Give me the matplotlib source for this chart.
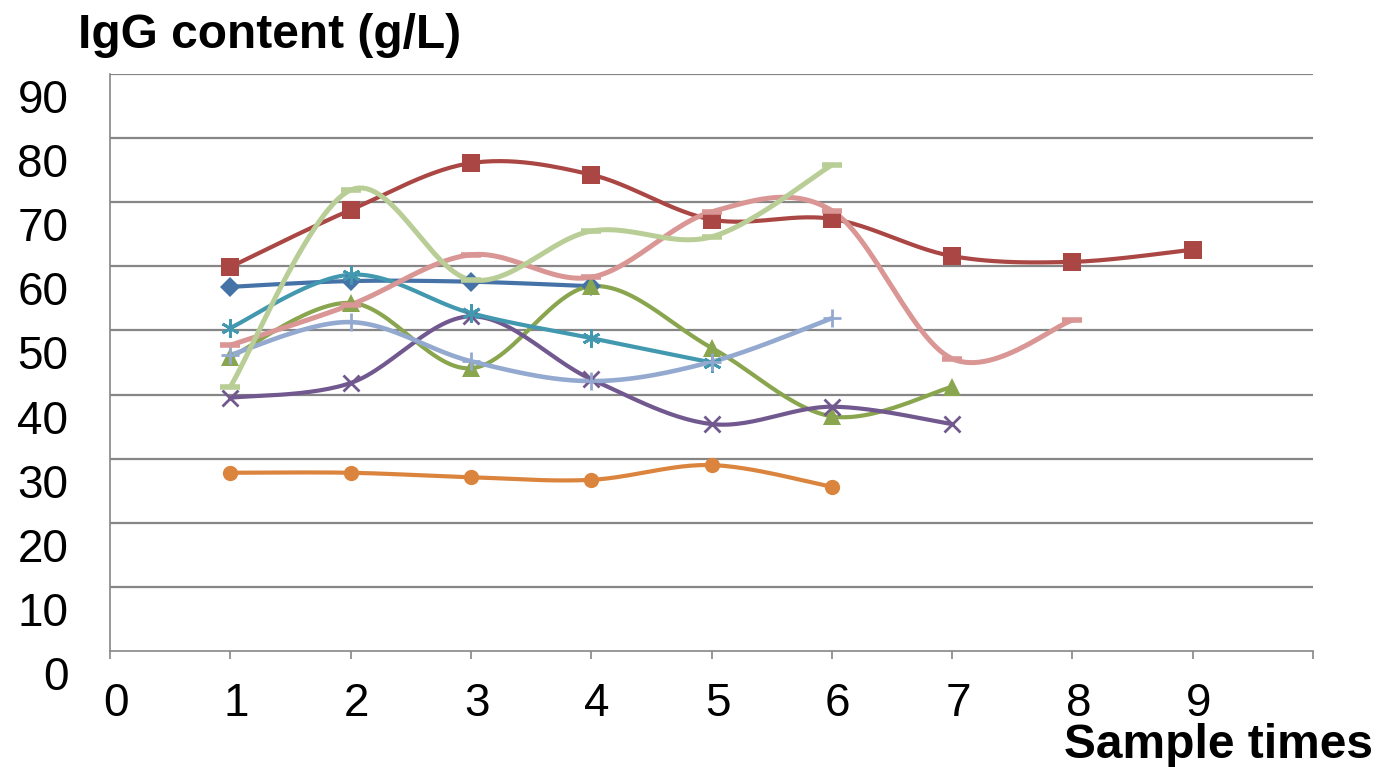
import numpy as np
import matplotlib.pyplot as plt
from matplotlib.transforms import ScaledTranslation

plt.rcParams['font.family'] = ['Liberation Sans', 'DejaVu Sans']

# IgG content (g/L) per sample time for each animal
series_values = [
    [56.8, 57.7, 57.6, 56.9],
    [59.9, 68.8, 76.1, 74.3, 67.3, 67.4, 61.6, 60.7, 62.6],
    [45.8, 54.3, 44.1, 56.9, 47.3, 36.6, 41.2],
    [39.5, 41.8, 52.2, 42.4, 35.4, 38.1, 35.4],
    [50.4, 58.7, 52.7, 48.8, 45.0],
    [27.8, 27.8, 27.1, 26.7, 29.0, 25.6],
    [46.2, 51.3, 45.2, 42.1, 45.1, 51.9],
    [47.7, 54.0, 61.8, 58.3, 68.5, 68.7, 45.6, 51.6],
    [41.2, 71.9, 57.9, 65.5, 64.6, 75.8],
]
x_ticks = list(range(0, 10))
y_ticks = list(range(0, 100, 10))

colors = ['#4572A7', '#AA4643', '#89A54E', '#71588F', '#4198AF',
          '#DB843D', '#93A9CF', '#D99694', '#B9CD96']
markers = ['D', 's', '^', 'x', (6, 2, 0), 'o', '+', '_', '_']
msizes = [10, 13, 13, 12, 13, 11, 13, 14, 14]
widths = [3.0, 3.0, 3.0, 3.0, 3.0, 3.0, 3.3, 3.6, 3.6]


def smooth(x, y, n=30):
    # cubic bezier through the points, control points from neighbours (Excel-style smoothing)
    x = np.asarray(x, float)
    y = np.asarray(y, float)
    px = np.concatenate(([x[0]], x, [x[-1]]))
    py = np.concatenate(([y[0]], y, [y[-1]]))
    xs, ys = [], []
    t = np.linspace(0, 1, n)
    for i in range(1, len(px) - 2):
        p0 = np.array([px[i], py[i]])
        p3 = np.array([px[i + 1], py[i + 1]])
        c1 = p0 + (np.array([px[i + 1], py[i + 1]]) - np.array([px[i - 1], py[i - 1]])) / 6
        c2 = p3 - (np.array([px[i + 2], py[i + 2]]) - np.array([px[i], py[i]])) / 6
        b = ((1 - t) ** 3)[:, None] * p0 + (3 * (1 - t) ** 2 * t)[:, None] * c1 \
            + (3 * (1 - t) * t ** 2)[:, None] * c2 + (t ** 3)[:, None] * p3
        xs.extend(b[:, 0])
        ys.extend(b[:, 1])
    return xs, ys


fig = plt.figure(figsize=(13.78, 7.67), dpi=100)
ax = fig.add_axes([110 / 1378, 1 - 651 / 767, 1203 / 1378, 577 / 767])

for vals, c, m, ms, lw in zip(series_values, colors, markers, msizes, widths):
    xs = np.arange(1, len(vals) + 1)
    sx, sy = smooth(xs, vals)
    ax.plot(sx, sy, color=c, lw=lw, zorder=3, solid_capstyle='round')
    mew = 2 if m in ('x', '+', (6, 2, 0)) else 4 if m == '_' else 0
    ax.plot(xs, vals, ls='none', marker=m, ms=ms, color=c, mec=c, mew=mew, zorder=4)

ax.set_xlim(0, 10)
ax.set_ylim(0, 90)
ax.set_xticks(x_ticks + [10])
ax.set_xticklabels([str(v) for v in x_ticks] + [''])
ax.set_yticks(y_ticks)
ax.set_yticklabels([str(v) for v in y_ticks])

for v in y_ticks[1:]:
    ax.axhline(v, color='#868686', lw=1.6, zorder=1)

for s in ['top', 'right']:
    ax.spines[s].set_visible(False)
ax.spines['left'].set_color('#868686')
ax.spines['left'].set_linewidth(1.2)
ax.spines['bottom'].set_color('#868686')
ax.spines['bottom'].set_linewidth(1.2)

ax.tick_params(axis='y', length=0, pad=30, labelsize=33)
ax.tick_params(axis='x', length=6, width=1.2, color='#868686', direction='out',
               pad=16, labelsize=33)

for lab in ax.get_yticklabels():
    lab.set_transform(lab.get_transform() + ScaledTranslation(0, -0.22, fig.dpi_scale_trans))
for lab in ax.get_xticklabels():
    lab.set_transform(lab.get_transform() + ScaledTranslation(0.06, 0, fig.dpi_scale_trans))

fig.text(78 / 1378, 1 - 35 / 767, 'IgG content (g/L)', fontsize=34.5, fontweight='bold',
         va='center', ha='left')
fig.text(1373 / 1378, 1 - 745 / 767, 'Sample times', fontsize=34.5, fontweight='bold',
         va='center', ha='right')

fig.savefig('out.png', dpi=100)
